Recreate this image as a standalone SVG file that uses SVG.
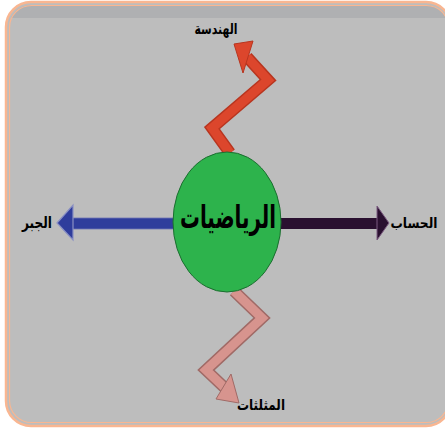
<svg xmlns="http://www.w3.org/2000/svg" width="445" height="430" viewBox="0 0 445 430">
<defs>
<style>
.lbl{font-family:"DejaVu Sans",sans-serif;font-weight:bold;fill:#000;}
</style>
<clipPath id="frameClip"><rect x="9" y="5" width="439" height="418" rx="22"/></clipPath>
</defs>
<rect width="445" height="430" fill="#ffffff"/>
<g id="frame">
<rect x="6" y="2" width="445" height="424" rx="25" fill="#bdbdbd" stroke="#f9b691" stroke-width="2.5"/>
<rect x="6" y="4" width="445" height="14" fill="#afb0b2" clip-path="url(#frameClip)"/>
<rect x="9.5" y="5.5" width="439" height="417" rx="22" fill="none" stroke="#f9b691" stroke-width="1.2"/>
</g>
<g id="connectors">
<g id="to-geometry">
<polyline points="230,153 212,128 268,80 247,57" fill="none" stroke="#b8351f" stroke-width="12" stroke-linejoin="miter"/>
<polyline points="230,153 212,128 268,80 247,57" fill="none" stroke="#dc462c" stroke-width="9" stroke-linejoin="miter"/>
<polygon points="234,44 253,41 243,73" fill="#dc462c" stroke="#b8351f" stroke-width="1"/>
</g>
<g id="to-trig">
<polyline points="234,291 262,318 206,370 226,389" fill="none" stroke="#a06a66" stroke-width="12" stroke-linejoin="miter"/>
<polyline points="234,291 262,318 206,370 226,389" fill="none" stroke="#d7948e" stroke-width="9" stroke-linejoin="miter"/>
<polygon points="231,374 239,403 216,399" fill="#d7948e" stroke="#a06a66" stroke-width="1"/>
</g>
<g id="to-algebra">
<rect x="71" y="218" width="104" height="11" fill="#2f3d9c" stroke="#6f76b5" stroke-width="0.8"/>
<polygon points="57,223 73,205 73,240" fill="#2f3d9c" stroke="#8a90c4" stroke-width="1.2"/>
</g>
<g id="to-arithmetic">
<rect x="279" y="218" width="99" height="11" fill="#2a1030"/>
<polygon points="389,223 377,206 377,240" fill="#2a1030" stroke="#7a5a80" stroke-width="1"/>
</g>
</g>
<g id="center">
<ellipse cx="227" cy="222" rx="54" ry="70" fill="#2db34c" stroke="#1c6e30" stroke-width="1"/>
<text class="lbl" x="228" y="228" font-size="32" text-anchor="middle" textLength="96" lengthAdjust="spacingAndGlyphs">الرياضيات</text>
</g>
<g id="geometry">
<text class="lbl" x="216" y="34" font-size="15" text-anchor="middle" textLength="43" lengthAdjust="spacingAndGlyphs">الهندسة</text>
</g>
<g id="algebra">
<text class="lbl" x="37" y="228" font-size="16" text-anchor="middle" textLength="30" lengthAdjust="spacingAndGlyphs">الجبر</text>
</g>
<g id="arithmetic">
<text class="lbl" x="414" y="228" font-size="14" text-anchor="middle" textLength="47" lengthAdjust="spacingAndGlyphs">الحساب</text>
</g>
<g id="trig">
<text class="lbl" x="261" y="410" font-size="15" text-anchor="middle" textLength="48" lengthAdjust="spacingAndGlyphs">المثلثات</text>
</g>
</svg>
